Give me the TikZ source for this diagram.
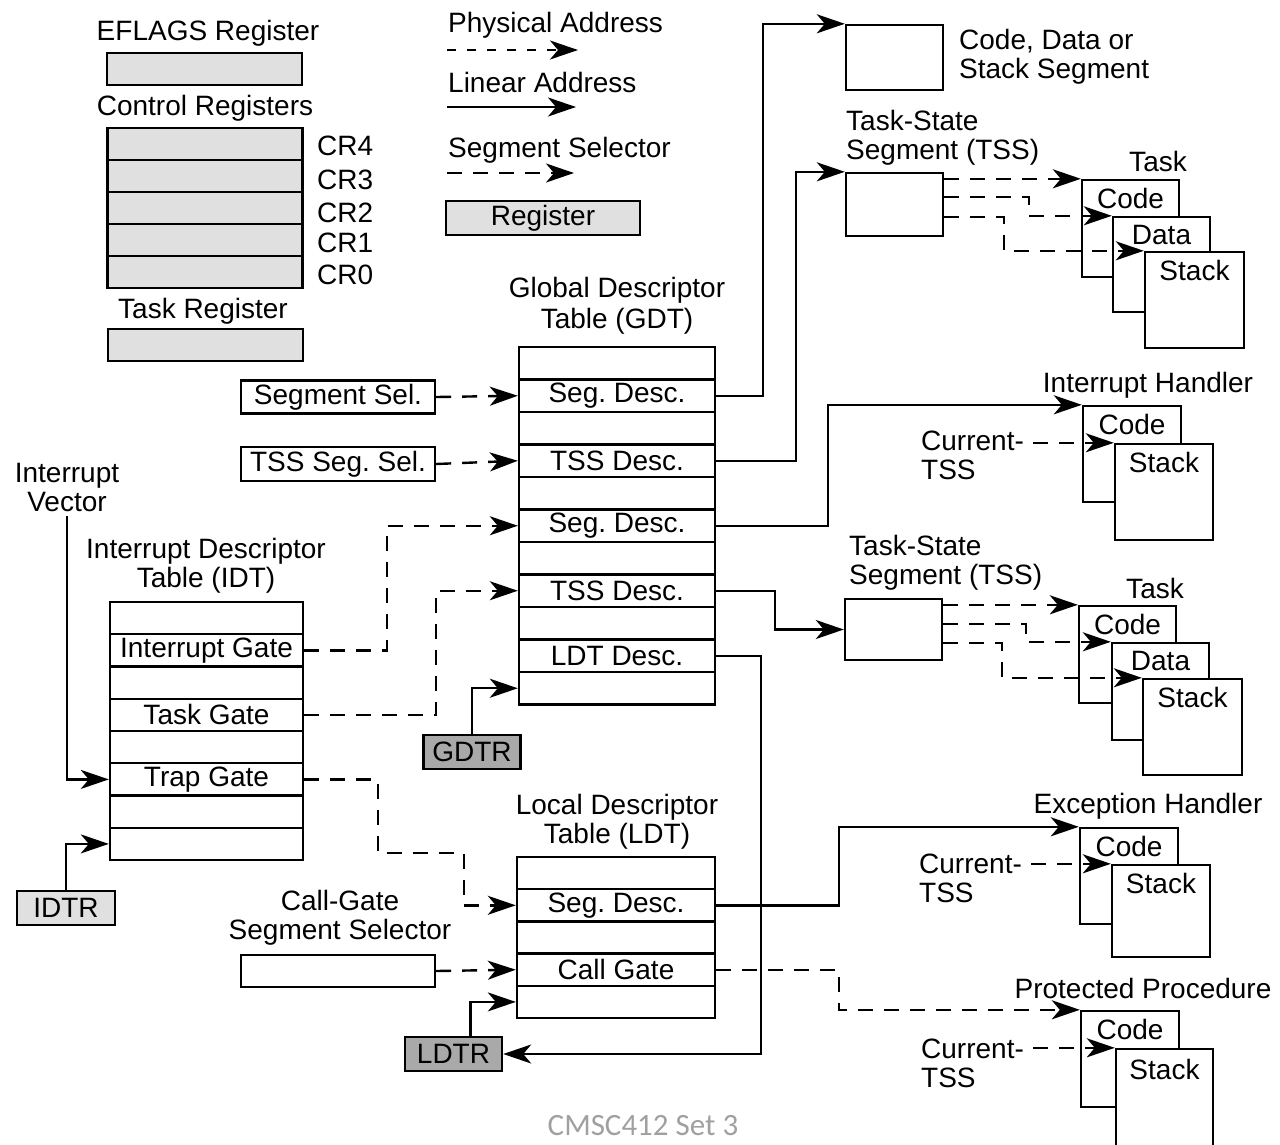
\documentclass[tikz,border=0pt]{standalone}
\usepackage{fontspec}
\setmainfont{Liberation Sans}
\newfontfamily\footfont{Carlito}
\usetikzlibrary{arrows.meta,positioning}
\definecolor{regfill}{HTML}{E0E0E0}
\definecolor{ptrfill}{HTML}{A9A9A9}
\definecolor{footgray}{HTML}{A0A0A0}
\frenchspacing

\begin{document}
\begin{tikzpicture}[x=1pt,y=-1pt,line width=2.4pt,font=\fontsize{28}{29}\selectfont,
  lbl/.style={inner sep=0pt,align=center},
  reg/.style={draw,fill=regfill,minimum width=195pt,minimum height=32pt,inner sep=0pt},
  ptr/.style={draw,fill=ptrfill,minimum width=97pt,minimum height=34pt,inner sep=0pt},
  selbox/.style={draw,fill=white,minimum width=194pt,minimum height=33pt,inner sep=0pt},
  segbox/.style={draw,fill=white,minimum width=97pt,minimum height=97pt,inner sep=0pt},
  row/.style={draw,minimum width=196pt,minimum height=32.5pt,inner sep=0pt},
  lin/.style={-{Stealth[length=28pt,width=19pt,inset=8pt]}},
  sel/.style={lin,dash pattern=on 15pt off 11pt}]
\useasboundingbox (0,0) rectangle (1280,1144);

\node[lbl] (eflagslbl) at (208,33) {EFLAGS Register};
\node[reg] (eflags) at (204.5,69) {};
\node[lbl] (crlbl) at (205,108) {Control Registers};
\node[reg] (cr4) at (205,144) {};
\node[reg] (cr3) at (205,176) {};
\node[reg] (cr2) at (205,208) {};
\node[reg] (cr1) at (205,240) {};
\node[reg] (cr0) at (205,272) {};
\node[lbl,anchor=west] (cr4lbl) at (316,146) {CR4};
\node[lbl,anchor=west] (cr3lbl) at (316,180) {CR3};
\node[lbl,anchor=west] (cr2lbl) at (316,213) {CR2};
\node[lbl,anchor=west] (cr1lbl) at (316,243) {CR1};
\node[lbl,anchor=west] (cr0lbl) at (316,275) {CR0};
\node[lbl] (trlbl) at (203,311) {Task Register};
\node[reg] (tr) at (205.5,345) {};

\node[lbl,anchor=west] (physlbl) at (447,25) {Physical Address};
\coordinate (phys0) at (447,50);
\coordinate (phys1) at (578,50);
\draw[lin,dash pattern=on 9pt off 11pt] (phys0) -- (phys1);
\node[lbl,anchor=west] (linlbl) at (447,82) {Linear Address};
\coordinate (lin0) at (447,107);
\coordinate (lin1) at (576,107);
\draw[lin] (lin0) -- (lin1);
\node[lbl,anchor=west] (sellbl) at (447,150) {Segment Selector};
\coordinate (sel0) at (447,173);
\coordinate (sel1) at (574,173);
\draw[sel] (sel0) -- (sel1);
\node[reg,minimum width=194pt,minimum height=34pt] (reglegend) at (543,218) {Register};

\node[lbl] (gdtlbl) at (617,306) {Global Descriptor\\[2pt]Table (GDT)};
\node[row] (gdt1) at (617,363.25) {};
\node[row] (gdt2) at (617,395.75) {Seg. Desc.};
\node[row] (gdt3) at (617,428.25) {};
\node[row] (gdt4) at (617,460.75) {TSS Desc.};
\node[row] (gdt5) at (617,493.25) {};
\node[row] (gdt6) at (617,525.75) {Seg. Desc.};
\node[row] (gdt7) at (617,558.25) {};
\node[row] (gdt8) at (617,590.75) {TSS Desc.};
\node[row] (gdt9) at (617,623.25) {};
\node[row] (gdt10) at (617,655.75) {LDT Desc.};
\node[row] (gdt11) at (617,688.25) {};

\node[selbox] (segsel) at (338,397) {Segment Sel.};
\node[selbox,minimum height=34pt] (tsssel) at (338,464) {TSS Seg. Sel.};
\draw[sel] (segsel.east) -- (gdt2.west);
\draw[sel] (tsssel.east) -- (gdt4.west);

\node[lbl] (ivec) at (67,487) {Interrupt\\Vector};
\node[lbl] (idtlbl) at (206,566) {Interrupt Descriptor\\Table (IDT)};
\node[row,minimum width=193pt,minimum height=32.25pt] (idt1) at (206.5,618.1) {};
\node[row,minimum width=193pt,minimum height=32.25pt] (idt2) at (206.5,650.4) {Interrupt Gate};
\node[row,minimum width=193pt,minimum height=32.25pt] (idt3) at (206.5,682.6) {};
\node[row,minimum width=193pt,minimum height=32.25pt] (idt4) at (206.5,714.9) {Task Gate};
\node[row,minimum width=193pt,minimum height=32.25pt] (idt5) at (206.5,747.1) {};
\node[row,minimum width=193pt,minimum height=32.25pt] (idt6) at (206.5,779.4) {Trap Gate};
\node[row,minimum width=193pt,minimum height=32.25pt] (idt7) at (206.5,811.6) {};
\node[row,minimum width=193pt,minimum height=32.25pt] (idt8) at (206.5,843.9) {};
\node[reg,minimum width=98pt,minimum height=34pt] (idtr) at (66,908) {IDTR};
\node[ptr] (gdtr) at (472,752) {GDTR};

\draw[lin] ([yshift=-4pt]ivec.south) |- (idt6.west);
\draw[lin] (idtr.north) |- (idt8.west);
\draw[lin] (gdtr.north) |- (gdt11.west);
\draw[sel] (idt2.east) -| ([xshift=-131pt]gdt6.west) -- (gdt6.west);
\draw[sel] (idt4.east) -| ([xshift=-82pt]gdt8.west) -- (gdt8.west);

\node[lbl] (ldtlbl) at (617,822) {Local Descriptor\\Table (LDT)};
\node[row,minimum width=198pt,minimum height=32.2pt] (ldt1) at (616,873.1) {};
\node[row,minimum width=198pt,minimum height=32.2pt] (ldt2) at (616,905.3) {Seg. Desc.};
\node[row,minimum width=198pt,minimum height=32.2pt] (ldt3) at (616,937.5) {};
\node[row,minimum width=198pt,minimum height=32.2pt] (ldt4) at (616,969.7) {Call Gate};
\node[row,minimum width=198pt,minimum height=32.2pt] (ldt5) at (616,1001.9) {};
\node[lbl] (cglbl) at (340,918) {Call-Gate\\Segment Selector};
\node[selbox,minimum height=32pt] (cgsel) at (338,971) {};
\node[ptr] (ldtr) at (453.5,1054) {LDTR};

\draw[sel] (idt6.east) -| (378,853) -| ([xshift=-52pt]ldt2.west) -- (ldt2.west);
\draw[sel] (cgsel.east) -- (ldt4.west);
\draw[lin] ([xshift=17pt]ldtr.north) |- (ldt5.west);
\draw[lin] (gdt10.east) -| ([xshift=258pt]ldtr.east) -- (ldtr.east);

\node[segbox,minimum height=65pt] (css) at (894.5,57.5) {};
\node[lbl,anchor=west,align=left] (csslbl) at (958,57) {Code, Data or\\Stack Segment};
\draw[lin] (gdt2.east) -| ([xshift=-82pt]css.north west) -- (css.north west);

\node[lbl,anchor=west,align=left] (tss1lbl) at (845,138) {Task-State\\Segment (TSS)};
\node[segbox,minimum height=63pt] (tss1) at (894.5,204.5) {};
\draw[lin] (gdt4.east) -| ([xshift=-49pt]tss1.north west) -- (tss1.north west);

\node[lbl] (task1lbl) at (1158,161) {Task};
\node[segbox] (t1c) at (1130.5,228.5) {};
\node[segbox,minimum height=95pt] (t1d) at (1161.5,264.5) {};
\node[segbox,minimum width=99pt,minimum height=96pt] (t1s) at (1194.5,300) {};
\node[lbl,below=8pt of t1c.north] (t1ctxt) {Code};
\node[lbl,below=8pt of t1d.north] (t1dtxt) {Data};
\node[lbl,below=8pt of t1s.north] (t1stxt) {Stack};
\draw[sel] (tss1.east |- t1c.north) -- (t1c.north west);
\draw[sel] ([yshift=-25pt]tss1.north east) -| ([xshift=-83pt]t1d.north west) -- (t1d.north west);
\draw[sel] ([yshift=-45pt]tss1.north east) -| ([xshift=-140pt]t1s.north west) -- (t1s.north west);

\node[lbl] (ihlbl) at (1148,385) {Interrupt Handler};
\node[segbox,minimum width=98pt,minimum height=96pt] (ihc) at (1132,454) {};
\node[segbox,minimum width=98pt,minimum height=96pt] (ihs) at (1164,492) {};
\node[lbl,below=8pt of ihc.north] (ihctxt) {Code};
\node[lbl,below=8pt of ihs.north] (ihstxt) {Stack};
\node[lbl,anchor=west,align=left] (cur1) at (920,455) {Current-\\TSS};
\coordinate (cur1e) at ([xshift=8pt]cur1.east);
\draw[sel] (cur1e |- ihs.north) -- (ihs.north west);
\draw[lin] (gdt6.east) -| ([xshift=-254pt]ihc.north west) -- (ihc.north west);

\node[lbl,anchor=west,align=left] (tss2lbl) at (848,563) {Task-State\\Segment (TSS)};
\node[segbox,minimum height=61pt] (tss2) at (893.5,629.5) {};
\draw[lin] (gdt8.east) -| ([xshift=-69pt]tss2.west) -- (tss2.west);

\node[lbl] (task2lbl) at (1155,588) {Task};
\node[segbox] (t2c) at (1127.5,654.5) {};
\node[segbox] (t2d) at (1160.5,691.5) {};
\node[segbox,minimum width=99pt,minimum height=96pt] (t2s) at (1192.5,727) {};
\node[lbl,below=8pt of t2c.north] (t2ctxt) {Code};
\node[lbl,below=8pt of t2d.north] (t2dtxt) {Data};
\node[lbl,below=8pt of t2s.north] (t2stxt) {Stack};
\draw[sel] (tss2.east |- t2c.north) -- (t2c.north west);
\draw[sel] ([yshift=-26pt]tss2.north east) -| ([xshift=-85pt]t2d.north west) -- (t2d.north west);
\draw[sel] ([yshift=-45pt]tss2.north east) -| ([xshift=-140pt]t2s.north west) -- (t2s.north west);

\node[lbl] (ehlbl) at (1148,806) {Exception Handler};
\node[segbox,minimum width=98pt,minimum height=96pt] (ehc) at (1129,876) {};
\node[segbox,minimum width=98pt,minimum height=92pt] (ehs) at (1161,911) {};
\node[lbl,below=8pt of ehc.north] (ehctxt) {Code};
\node[lbl,below=8pt of ehs.north] (ehstxt) {Stack};
\node[lbl,anchor=west,align=left] (cur2) at (918,878) {Current-\\TSS};
\coordinate (cur2e) at ([xshift=8pt]cur2.east);
\draw[sel] (cur2e |- ehs.north) -- (ehs.north west);
\draw[lin] (ldt2.east) -| ([xshift=-240pt]ehc.north west) -- (ehc.north west);

\node[lbl] (pplbl) at (1143,988) {Protected Procedure};
\node[segbox,minimum width=98pt,minimum height=96pt] (ppc) at (1130,1059) {};
\node[segbox,minimum width=97pt,minimum height=111pt] (pps) at (1164.5,1104.5) {};
\node[lbl,below=8pt of ppc.north] (ppctxt) {Code};
\node[lbl,below=10pt of pps.north] (ppstxt) {Stack};
\node[lbl,anchor=west,align=left] (cur3) at (920,1063) {Current-\\TSS};
\coordinate (cur3e) at ([xshift=8pt]cur3.east);
\draw[sel] (cur3e |- pps.north) -- (pps.north west);
\draw[sel] (ldt4.east) -| ([xshift=-241pt]ppc.north west) -- (ppc.north west);

\node[lbl,text=footgray,font=\footfont\fontsize{31}{32}\selectfont] (foot) at (643,1126) {CMSC412 Set 3};
\end{tikzpicture}
\end{document}
